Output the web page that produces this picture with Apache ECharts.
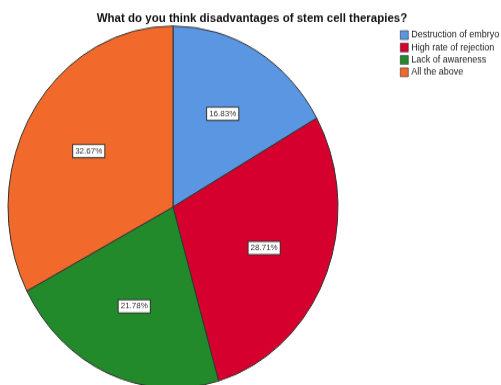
<!DOCTYPE html>
<html>
<head>
<meta charset="utf-8">
<script src="https://cdn.jsdelivr.net/npm/echarts@6/dist/echarts.min.js"></script>
<style>
  html, body { margin: 0; padding: 0; background: #fff; overflow: hidden; }
  #wrap { width: 501px; height: 385px; overflow: hidden; position: relative; }
  /* the pie is drawn slightly taller than wide */
  #chart { width: 501px; height: 351px; transform: scaleY(1.097); transform-origin: 0 0; }
</style>
</head>
<body>
<div id="wrap"><div id="chart"></div></div>
<script>
const titleText = 'What do you think disadvantages of stem cell therapies?';
const categories = ['Destruction of embryo', 'High rate of rejection', 'Lack of awareness', 'All the above'];
const percents = [16.83, 28.71, 21.78, 32.67];
const colors = ['#5a96e2', '#d6002f', '#238a2b', '#f26a2b'];

const chart = echarts.init(document.getElementById('chart'), null, { renderer: 'canvas' });

const sliceData = categories.map((name, i) => ({
  name: name,
  value: percents[i],
  itemStyle: { color: colors[i] }
}));

const labelData = categories.map((name, i) => ({ name: name, value: percents[i] }));

chart.setOption({
  animation: false,
  title: {
    text: titleText,
    left: 247,
    textAlign: 'center',
    top: 6,
    textStyle: { fontFamily: 'Liberation Sans', fontSize: 11.5, fontWeight: 'bold', color: '#111' }
  },
  legend: {
    orient: 'vertical',
    left: 400,
    top: 27,
    padding: 0,
    itemWidth: 8,
    itemHeight: 8,
    itemGap: 1.3,
    icon: 'rect',
    selectedMode: false,
    data: categories,
    itemStyle: { borderColor: '#333', borderWidth: 0.6 },
    textStyle: { fontFamily: 'Liberation Sans', fontSize: 9, lineHeight: 10, color: '#222', padding: [0, 0, 0, -2] }
  },
  series: [
    {
      type: 'pie',
      center: [173, 188.7],
      radius: [0, 165],
      startAngle: 90,
      clockwise: true,
      silent: true,
      label: { show: false },
      labelLine: { show: false },
      itemStyle: { borderColor: '#333', borderWidth: 1 },
      data: sliceData
    },
    {
      type: 'pie',
      center: [173, 188.7],
      radius: [26, 165],
      startAngle: 90,
      clockwise: true,
      silent: true,
      z: 5,
      itemStyle: { color: 'rgba(0,0,0,0)', borderWidth: 0 },
      labelLine: { show: false },
      label: {
        show: true,
        position: 'inside',
        formatter: p => p.value.toFixed(2) + '%',
        fontFamily: 'Liberation Sans',
        fontSize: 8,
        color: '#333',
        backgroundColor: '#fff',
        borderColor: '#333',
        borderWidth: 1,
        padding: [2, 2, 1, 2]
      },
      data: labelData
    }
  ]
});
</script>
</body>
</html>
